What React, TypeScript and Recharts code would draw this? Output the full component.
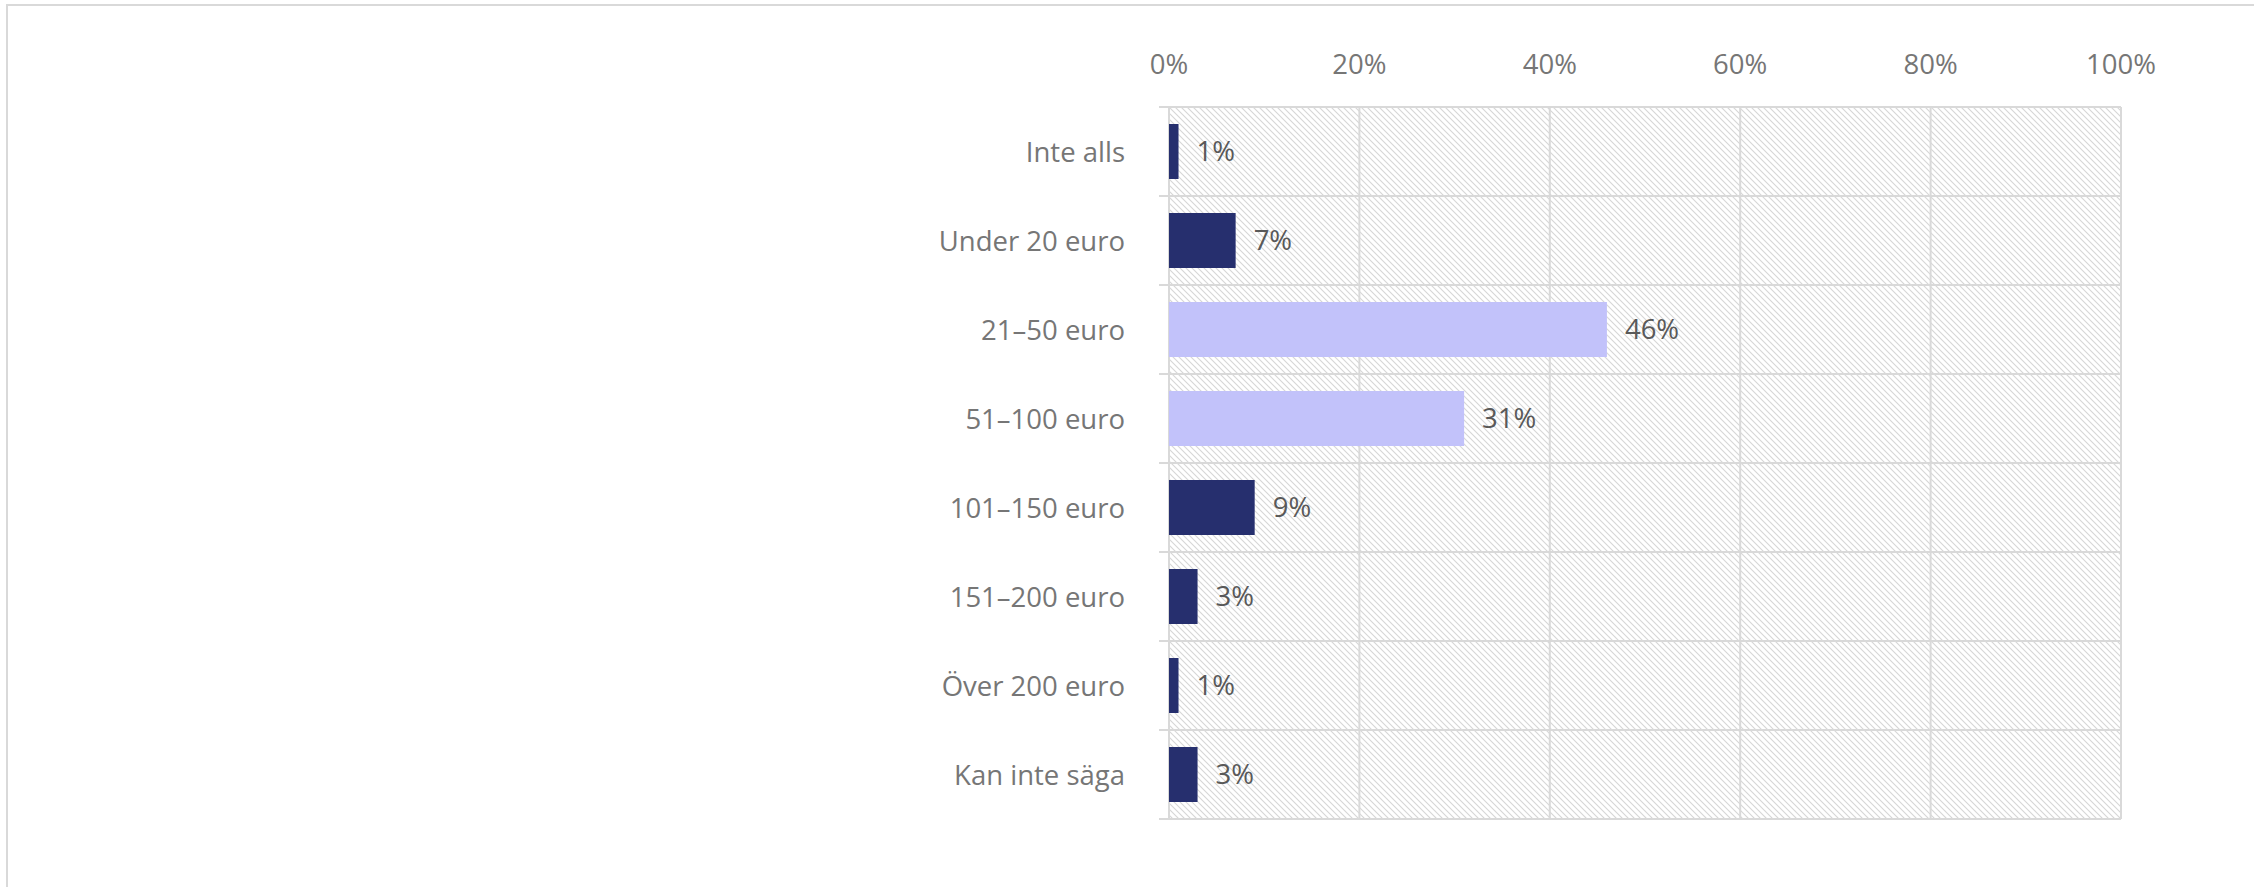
import React from 'react';
import {
  BarChart,
  Bar,
  XAxis,
  YAxis,
  CartesianGrid,
  Cell,
  LabelList,
} from 'recharts';

const categories = [
  'Inte alls',
  'Under 20 euro',
  '21–50 euro',
  '51–100 euro',
  '101–150 euro',
  '151–200 euro',
  'Över 200 euro',
  'Kan inte säga',
];
const shares = [1, 7, 46, 31, 9, 3, 1, 3];
const highlighted = [false, false, true, true, false, false, false, false];
const xTicks = [0, 20, 40, 60, 80, 100];

const DARK = '#262F6E';
const LIGHT = '#C2C2FA';
const GRID = '#D9D9D9';
const FONT = '"Open Sans", sans-serif';

const chartData = categories.map((name, i) => ({
  name,
  value: shares[i],
  highlight: highlighted[i],
}));

const CategoryTick = (props: any) => {
  const { x, y, payload, index } = props;
  const half = payload.offset ?? 44.5;
  const top = payload.coordinate - half;
  const bottom = payload.coordinate + half;
  return (
    <g>
      <line x1={x + 34} x2={x + 44} y1={top} y2={top} stroke={GRID} strokeWidth={2} />
      {index === categories.length - 1 && (
        <line x1={x + 34} x2={x + 44} y1={bottom} y2={bottom} stroke={GRID} strokeWidth={2} />
      )}
      <text
        x={x}
        y={y}
        textAnchor="end"
        dominantBaseline="central"
        fill="#767676"
        fontSize={27.5}
        fontFamily={FONT}
      >
        {payload.value}
      </text>
    </g>
  );
};

export default function App() {
  return (
    <div
      style={{
        position: 'absolute',
        left: 0,
        top: 0,
        width: 2254,
        height: 887,
        overflow: 'hidden',
        background: '#fff',
      }}
    >
      <div
        style={{
          position: 'absolute',
          left: 6,
          top: 4,
          width: 2300,
          height: 950,
          border: `2px solid ${GRID}`,
          boxSizing: 'border-box',
        }}
      />
      <div style={{ position: 'absolute', left: 0, top: 0 }}>
        <BarChart
          width={2254}
          height={887}
          data={chartData}
          layout="vertical"
          margin={{ top: 67, right: 133, bottom: 68, left: 0 }}
          barSize={55}
        >
          <defs>
            <pattern id="hatch" patternUnits="userSpaceOnUse" width="6" height="6">
              <rect width="6" height="6" fill="#FFFFFF" />
              <path d="M0,0 L6,6 M-1,5 L1,7 M5,-1 L7,1" stroke="#D6D6D6" strokeWidth={1.1} />
            </pattern>
          </defs>
          <CartesianGrid
            stroke={GRID}
            strokeWidth={2}
            fill="url(#hatch)"
            fillOpacity={1}
            horizontalCoordinatesGenerator={({ offset }: any) =>
              categories
                .concat([''])
                .map((_, i) => offset.top + (i * offset.height) / categories.length)
            }
          />
          <XAxis
            type="number"
            orientation="top"
            domain={[0, 100]}
            ticks={xTicks}
            tickFormatter={(v: number) => `${v}%`}
            axisLine={false}
            tickLine={false}
            tickSize={0}
            tickMargin={33}
            height={40}
            tick={{ fill: '#767676', fontSize: 27.5, fontFamily: FONT }}
            interval={0}
          />
          <YAxis
            type="category"
            dataKey="name"
            width={1169}
            axisLine={false}
            tickLine={false}
            tickSize={10}
            tickMargin={34}
            tick={<CategoryTick />}
            interval={0}
          />
          <Bar dataKey="value" isAnimationActive={false}>
            {chartData.map((d, i) => (
              <Cell key={i} fill={d.highlight ? LIGHT : DARK} />
            ))}
            <LabelList
              dataKey="value"
              position="right"
              offset={18}
              formatter={(v: any) => `${v}%`}
              fill="#595959"
              fontSize={27.5}
              fontFamily={FONT}
            />
          </Bar>
        </BarChart>
      </div>
    </div>
  );
}
